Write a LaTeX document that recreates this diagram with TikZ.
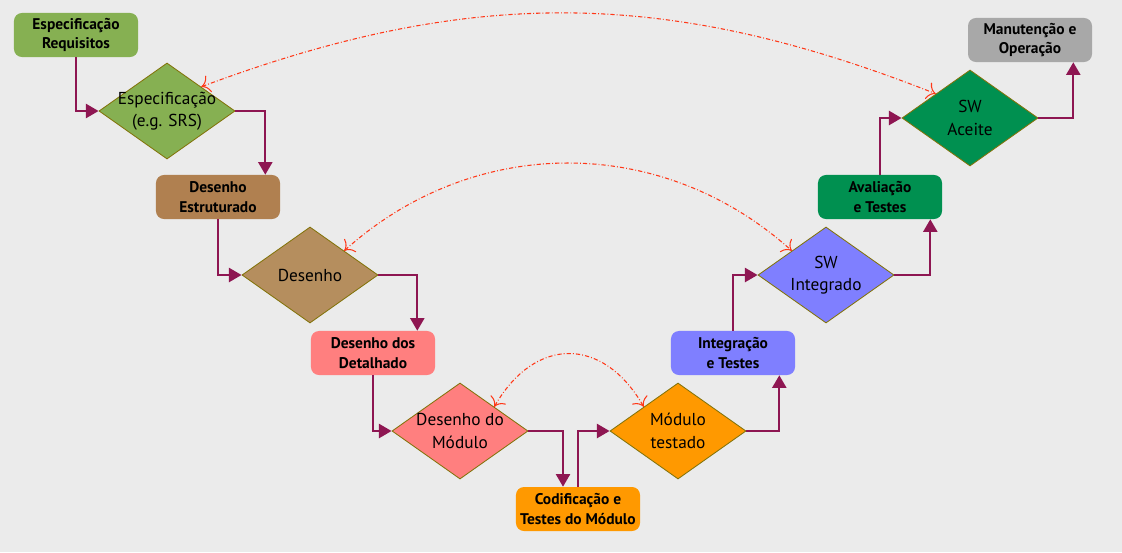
\documentclass[tikz,border=0pt]{standalone}
\usepackage{fontspec}
\setmainfont{PT Sans}
\usetikzlibrary{shapes.geometric,arrows.meta}

\definecolor{bg}{RGB}{235,235,235}
\definecolor{flow}{RGB}{142,22,82}
\definecolor{link}{RGB}{255,56,24}
\definecolor{rim}{RGB}{130,115,10}
\definecolor{reqgreen}{RGB}{134,176,82}
\definecolor{dsgbrown}{RGB}{176,128,80}
\definecolor{dsgbrownl}{RGB}{181,142,94}
\definecolor{detpink}{RGB}{255,127,127}
\definecolor{codorange}{RGB}{255,153,0}
\definecolor{intblue}{RGB}{127,127,255}
\definecolor{accgreen}{RGB}{0,144,80}
\definecolor{opgray}{RGB}{168,168,168}

\begin{document}
\begin{tikzpicture}[x=0.025cm,y=0.025cm,
stage/.style={rounded corners=0.2cm,minimum width=3.1cm,minimum height=1.1cm,inner sep=0pt,align=center,font=\bfseries\fontsize{11}{14}\selectfont},
check/.style={diamond,draw=rim,line width=0.6pt,minimum width=3.4cm,minimum height=2.4cm,inner sep=-8pt,align=center,font=\fontsize{12.3}{16}\selectfont},
flw/.style={draw=flow,line width=1.6pt,-{Triangle[length=9pt,width=10pt]}},
lnk/.style={draw=link,line width=0.75pt,dash pattern=on 3pt off 1.5pt on 0.6pt off 1.5pt,{To[length=6pt]}-{To[length=6pt]}}]
\useasboundingbox (0,0) rectangle (1122,-552);
\fill[bg] (0,0) rectangle (1122,-552);
% descending branch
\node[stage,fill=reqgreen] (req) at (76,-35) {Especificação\\Requisitos};
\node[check,fill=reqgreen] (spec) at (167,-111) {Especificação\\(e.g. SRS)};
\node[stage,fill=dsgbrown] (arch) at (218,-197) {Desenho\\Estruturado};
\node[check,fill=dsgbrownl] (dsg) at (310,-275) {Desenho};
\node[stage,fill=detpink] (det) at (373,-353) {Desenho dos\\Detalhado};
\node[check,fill=detpink] (mdsg) at (460,-431) {Desenho do\\Módulo};
\node[stage,fill=codorange] (cod) at (578,-509) {Codificação e\\Testes do Módulo};
% ascending branch
\node[check,fill=codorange] (mtst) at (678,-431) {Módulo\\testado};
\node[stage,fill=intblue] (intg) at (733,-353) {Integração\\e Testes};
\node[check,fill=intblue] (swi) at (826,-275) {SW\\Integrado};
\node[stage,fill=accgreen] (aval) at (880,-197) {Avaliação\\e Testes};
\node[check,fill=accgreen] (swa) at (970,-118) {SW\\Aceite};
\node[stage,fill=opgray] (op) at (1030,-40) {Manutenção e\\Operação};
% flow
\draw[flw] (req.south) |- (spec.west);
\draw[flw] (spec.east) -| ([xshift=-0.375cm]arch.north east);
\draw[flw] (arch.south) |- (dsg.west);
\draw[flw] (dsg.east) -| ([xshift=-0.45cm]det.north east);
\draw[flw] (det.south) |- (mdsg.west);
\draw[flw] (mdsg.east) -| ([xshift=-0.375cm]cod.north);
\draw[flw] (cod.north) |- (mtst.west);
\draw[flw] (mtst.east) -| ([xshift=-0.4cm]intg.south east);
\draw[flw] (intg.north) |- (swi.west);
\draw[flw] (swi.east) -| ([xshift=-0.3cm]aval.south east);
\draw[flw] (aval.north) |- (swa.west);
\draw[flw] (swa.east) -| ([xshift=-0.475cm]op.south east);
% verification links
\draw[lnk] (spec.north east) to[bend left=21] (swa.north west);
\draw[lnk] (dsg.north east) to[bend left=42] (swi.north west);
\draw[lnk] (mdsg.north east) to[bend left=60,looseness=1.4] (mtst.north west);
\end{tikzpicture}
\end{document}
